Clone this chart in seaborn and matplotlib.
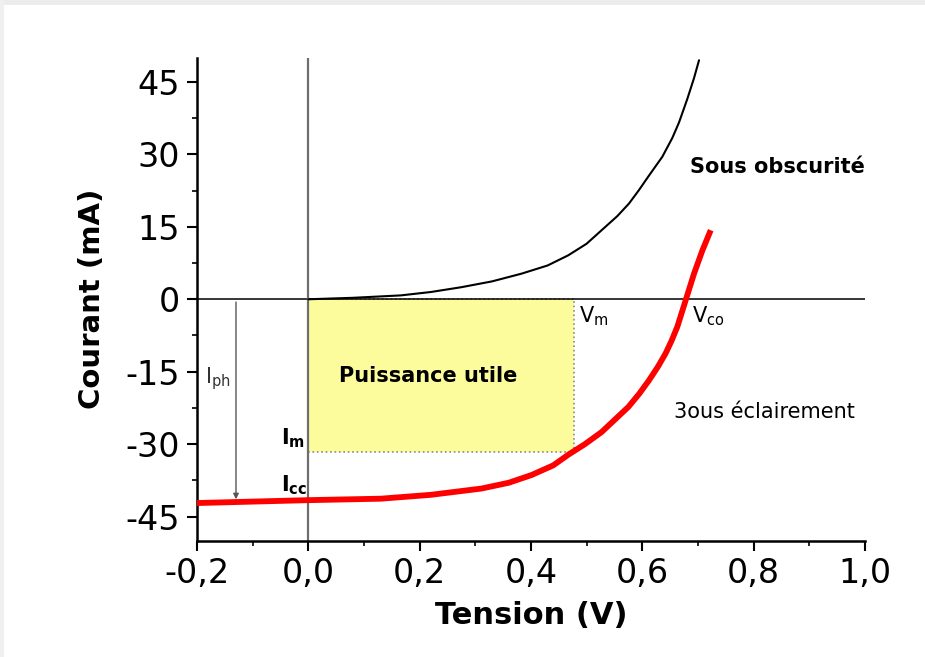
import numpy as np
import pandas as pd
import matplotlib.pyplot as plt
import seaborn as sns
from matplotlib.patches import Rectangle

# I-V curve of the cell
v_dark = [0.0, 0.08, 0.166, 0.22, 0.275, 0.33, 0.383, 0.43, 0.467, 0.50, 0.527, 0.555,
          0.576, 0.594, 0.612, 0.636, 0.654, 0.666, 0.681, 0.693, 0.702]
i_dark = [0.0, 0.3, 0.8, 1.5, 2.5, 3.7, 5.3, 7.0, 9.1, 11.5, 14.3, 17.2,
          19.8, 22.6, 25.6, 29.5, 33.4, 36.6, 41.5, 45.8, 49.5]

v_light = [-0.2, -0.1, 0.0, 0.13, 0.22, 0.311, 0.36, 0.401, 0.44, 0.467, 0.497, 0.527,
           0.551, 0.575, 0.595, 0.612, 0.628, 0.642, 0.653, 0.663, 0.678, 0.693, 0.708, 0.723]
i_light = [-42.2, -41.9, -41.6, -41.3, -40.5, -39.2, -38.0, -36.4, -34.4, -32.2, -30.0, -27.5,
           -24.9, -22.3, -19.5, -16.8, -14.0, -11.2, -8.5, -5.7, -0.2, 5.3, 10.1, 14.3]

# operating point and photocurrent
v_m = 0.478
i_m = -31.7
i_ph = -42.0
v_ph_arrow = -0.13

x_ticks = [-0.2, 0.0, 0.2, 0.4, 0.6, 0.8, 1.0]
x_labels = ["-0,2", "0,0", "0,2", "0,4", "0,6", "0,8", "1,0"]
y_ticks = [-45, -30, -15, 0, 15, 30, 45]
y_labels = ["-45", "-30", "-15", "0", "15", "30", "45"]

sns.set_style("ticks")
plt.rcParams['font.family'] = ['DejaVu Sans']
plt.rcParams['mathtext.default'] = 'regular'
plt.rcParams['text.color'] = 'black'
plt.rcParams['axes.labelcolor'] = 'black'
plt.rcParams['xtick.color'] = 'black'
plt.rcParams['ytick.color'] = 'black'
plt.rcParams['axes.edgecolor'] = 'black'

fig = plt.figure(figsize=(9.25, 6.57), dpi=100)
ax = fig.add_axes([0.213, 0.177, 0.722, 0.735])

# yellow "useful power" rectangle
ax.add_patch(Rectangle((0, i_m), v_m, -i_m, facecolor='#fdfc9c', edgecolor='#8a8a8a',
                       linestyle=':', linewidth=1.2, zorder=1))

ax.axhline(0, color='black', lw=1.1, zorder=2)
ax.axvline(0, color='#6e6e6e', lw=1.6, zorder=2)

dark = pd.DataFrame({'V': v_dark, 'I': i_dark})
light = pd.DataFrame({'V': v_light, 'I': i_light})
sns.lineplot(data=dark, x='V', y='I', color='black', lw=1.5, ax=ax, zorder=3,
             solid_joinstyle='round')
sns.lineplot(data=light, x='V', y='I', color='#ff0000', lw=4.2, ax=ax, zorder=4,
             solid_joinstyle='round', solid_capstyle='butt')

# I_ph arrow
ax.annotate('', xy=(v_ph_arrow, i_ph), xytext=(v_ph_arrow, 0),
            arrowprops=dict(arrowstyle='-|>', color='#555555', lw=1.0, mutation_scale=8))

ax.text(-0.185, -16.5, r'I$_{ph}$', fontsize=15, color='#333333', ha='left', va='center')
ax.text(-0.05, -28.8, r'I$_{m}$', fontsize=15, ha='left', va='center', fontweight='bold')
ax.text(-0.05, -38.5, r'I$_{cc}$', fontsize=15, ha='left', va='center', fontweight='bold')
ax.text(0.486, -3.6, r'V$_{m}$', fontsize=15, ha='left', va='center')
ax.text(0.69, -3.6, r'V$_{co}$', fontsize=15, ha='left', va='center')

ax.text(0.215, -15.9, 'Puissance utile', fontsize=15, fontweight='bold', ha='center', va='center')
ax.text(0.685, 27.4, 'Sous obscurité', fontsize=15, fontweight='bold', ha='left', va='center')
ax.text(0.657, -23.3, '3ous éclairement', fontsize=15, ha='left', va='center')

ax.set_xlim(-0.2, 1.0)
ax.set_ylim(-50, 50)
ax.set_xticks(x_ticks)
ax.set_xticklabels(x_labels)
ax.set_yticks(y_ticks)
ax.set_yticklabels(y_labels)
ax.set_xticks(np.arange(-0.1, 1.0, 0.2), minor=True)
ax.set_yticks(np.arange(-37.5, 45, 15), minor=True)
ax.tick_params(which='major', length=7, width=1.5, labelsize=24, pad=5, direction='out')
ax.tick_params(which='minor', length=3.5, width=1.2, direction='out')

for s in ['top', 'right']:
    ax.spines[s].set_visible(False)
for s in ['left', 'bottom']:
    ax.spines[s].set_linewidth(1.8)

ax.set_xlabel('Tension (V)', fontsize=22, fontweight='bold', labelpad=8)
ax.set_ylabel('Courant (mA)', fontsize=21, fontweight='bold', labelpad=14)

# light grey frame at top / left of the picture
fig.add_artist(Rectangle((0, 0.992), 1, 0.008, transform=fig.transFigure, color='#ececec', lw=0))
fig.add_artist(Rectangle((0, 0), 0.004, 1, transform=fig.transFigure, color='#f0f0f0', lw=0))

fig.savefig('out.png', dpi=100)
